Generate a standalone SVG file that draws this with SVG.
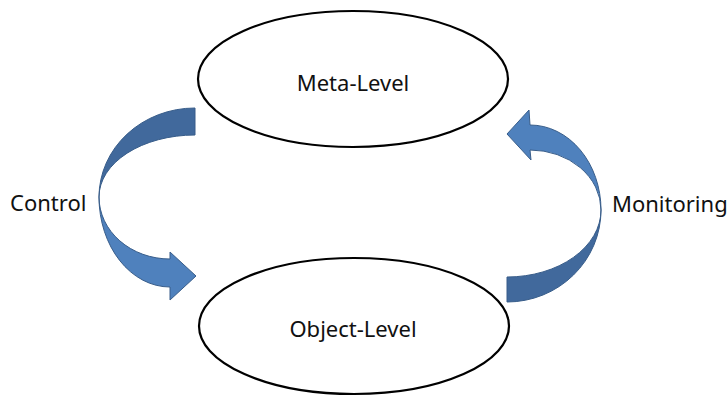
<svg xmlns="http://www.w3.org/2000/svg" width="727" height="396" viewBox="0 0 727 396">
  <style>
    .level { fill: #ffffff; stroke: #000000; stroke-width: 2.2; }
    .label { font-family: "Noto Sans", "Open Sans", sans-serif; font-size: 22px; fill: #111111; }
    .band-back { fill: #41699c; stroke: #385d8a; stroke-width: 1; stroke-linejoin: round; }
    .band-front { fill: #4f81bd; stroke: #385d8a; stroke-width: 1; stroke-linejoin: round; }
  </style>
  <rect width="727" height="396" fill="#ffffff"/>

  <g id="meta-level">
    <ellipse class="level" cx="353" cy="79" rx="155" ry="68"/>
    <text class="label" x="353" y="91" text-anchor="middle">Meta-Level</text>
  </g>

  <g id="object-level">
    <ellipse class="level" cx="354" cy="326" rx="155" ry="68"/>
    <text class="label" x="353" y="337" text-anchor="middle">Object-Level</text>
  </g>

  <g id="connectors">
    <!-- Control: curved arrow from meta-level down to object-level -->
    <g id="control-arrow">
      <path class="band-back" d="M195,108 A96,89 0 0 0 99,197 A96,62 0 0 1 195,135 Z"/>
      <path class="band-front" d="M99,197 A71,90 0 0 0 170,287 L170,300 L196,276 L170,252 L170,259 A71,62 0 0 1 99,197 Z"/>
    </g>
    <!-- Monitoring: curved arrow from object-level up to meta-level -->
    <g id="monitoring-arrow">
      <path class="band-back" d="M507,302 A94,92 0 0 0 601,210 A94,67 0 0 1 507,277 Z"/>
      <path class="band-front" d="M601,210 A71,85 0 0 0 530,125 L529,110 L507,134 L531,160 L530,150 A71,60 0 0 1 601,210 Z"/>
    </g>
  </g>

  <g id="control-label">
    <text class="label" x="10" y="211">Control</text>
  </g>
  <g id="monitoring-label">
    <text class="label" x="612" y="212">Monitoring</text>
  </g>
</svg>
